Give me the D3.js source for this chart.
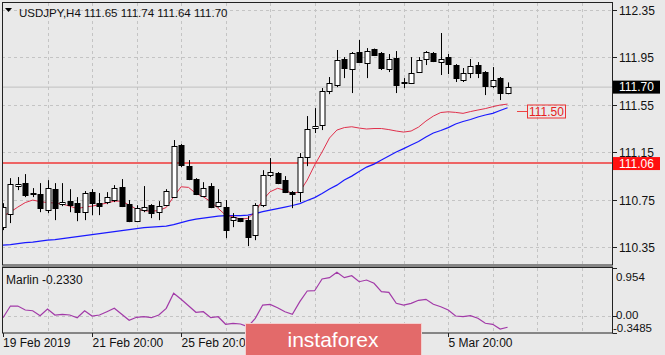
<!DOCTYPE html>
<html><head><meta charset="utf-8">
<script src="https://cdn.jsdelivr.net/npm/d3@7"></script>
<style>html,body{margin:0;padding:0;background:#e9e9e9;overflow:hidden}svg{display:block;font-family:"Liberation Sans",Arial,sans-serif}</style>
</head><body><svg id="c" width="665" height="355"></svg>
<script>
const symbolTitle = "USDJPY,H4";
const lastBar = ["111.65", "111.74", "111.64", "111.70"];
const opens = [110.520,110.630,110.866,110.891,110.811,110.798,110.663,110.840,110.714,110.739,
110.722,110.646,110.815,110.722,110.731,110.748,110.857,110.714,110.570,110.663,
110.705,110.646,110.705,110.773,111.211,111.034,110.925,110.781,110.866,110.697,
110.689,110.579,110.596,110.579,110.453,110.705,110.958,110.975,110.916,110.815,
110.815,111.110,111.355,111.380,111.667,111.717,111.937,111.852,111.996,111.903,
112.021,111.987,111.852,111.945,111.743,111.734,111.827,111.937,111.987,111.911,
111.953,111.886,111.759,111.819,111.886,111.827,111.709,111.776,111.65];
const highs = [110.722,110.933,110.942,110.967,110.849,110.891,110.916,110.891,110.891,110.840,
110.773,110.824,110.840,110.807,110.815,110.874,110.925,110.748,110.705,110.866,
110.714,110.739,110.840,111.254,111.220,111.085,110.933,110.899,110.891,110.840,
110.748,110.638,110.596,110.613,110.722,111.000,111.102,110.984,110.950,110.824,
111.144,111.456,111.523,111.692,111.785,112.013,111.953,111.996,112.097,112.029,
112.025,111.996,111.979,112.004,111.776,111.953,111.953,112.004,111.996,112.156,
111.979,111.894,111.861,111.937,111.911,111.835,111.869,111.785,111.74];
const lows = [110.495,110.554,110.832,110.773,110.773,110.646,110.638,110.579,110.697,110.646,
110.570,110.579,110.621,110.621,110.714,110.731,110.689,110.562,110.562,110.646,
110.596,110.579,110.697,110.765,111.026,110.916,110.790,110.773,110.680,110.685,
110.427,110.520,110.562,110.360,110.410,110.689,110.942,110.882,110.807,110.680,
110.731,111.034,111.313,111.338,111.641,111.700,111.776,111.650,111.907,111.776,
111.962,111.844,111.827,111.650,111.692,111.726,111.819,111.886,111.911,111.802,
111.810,111.743,111.743,111.776,111.776,111.633,111.692,111.591,111.64];
const closes = [110.689,110.883,110.883,110.790,110.802,110.680,110.849,110.680,110.731,110.705,
110.646,110.807,110.722,110.697,110.773,110.849,110.697,110.570,110.680,110.689,
110.638,110.697,110.824,111.203,111.043,110.925,110.798,110.849,110.689,110.731,
110.495,110.604,110.570,110.436,110.705,110.958,110.984,110.891,110.815,110.798,
111.110,111.346,111.372,111.667,111.734,111.928,111.861,111.987,111.911,112.004,
111.970,111.861,111.937,111.717,111.734,111.819,111.928,111.996,111.920,111.937,
111.894,111.776,111.819,111.878,111.819,111.709,111.759,111.650,111.70];
const maFast = [110.613,110.647,110.689,110.727,110.748,110.735,110.727,110.723,110.714,110.697,
110.676,110.689,110.697,110.710,110.723,110.739,110.739,110.706,110.672,110.658,
110.655,110.659,110.686,110.776,110.860,110.855,110.804,110.776,110.734,110.678,
110.621,110.607,110.588,110.594,110.649,110.748,110.818,110.847,110.832,110.804,
110.818,110.917,111.043,111.153,111.271,111.338,111.359,111.366,111.355,111.347,
111.351,111.351,111.342,111.330,111.321,111.330,111.363,111.414,111.456,111.486,
111.492,111.487,111.479,111.494,111.507,111.519,111.535,111.549,111.557];
const maSlow = [110.368,110.373,110.381,110.390,110.394,110.402,110.411,110.415,110.423,110.432,
110.440,110.449,110.457,110.465,110.474,110.482,110.491,110.499,110.508,110.516,
110.520,110.524,110.529,110.541,110.558,110.575,110.588,110.596,110.605,110.613,
110.617,110.617,110.617,110.621,110.634,110.651,110.664,110.676,110.689,110.702,
110.718,110.744,110.769,110.803,110.841,110.874,110.917,110.950,110.988,111.026,
111.051,111.085,111.119,111.153,111.182,111.212,111.241,111.279,111.313,111.334,
111.359,111.389,111.410,111.427,111.448,111.465,111.479,111.503,111.526];
const marlin = [-0.042,0.192,0.192,0.112,0.098,-0.002,0.132,0.012,0.026,0.012,
-0.042,0.098,-0.008,0.012,0.078,0.146,0.026,-0.094,-0.034,-0.022,
-0.042,0.012,0.146,0.447,0.327,0.198,0.066,0.078,-0.042,-0.022,
-0.174,-0.154,-0.168,-0.222,-0.054,0.212,0.226,0.158,0.078,0.026,
0.279,0.493,0.499,0.733,0.760,0.868,0.760,0.800,0.679,0.713,
0.647,0.479,0.467,0.246,0.212,0.246,0.307,0.327,0.226,0.178,
0.112,-0.008,-0.022,-0.002,-0.054,-0.154,-0.174,-0.269,-0.233];
const priceTicks = [110.35, 110.75, 111.15, 111.55, 111.95, 112.35];
const priceTickLabels = ["110.35","110.75","111.15","111.55","111.95","112.35"];
const timeTickIndex = [0, 12, 24, 60];
const timeTickLabels = ["19 Feb 2019","21 Feb 20:00","25 Feb 20:00","5 Mar 20:00"];
const gridStep = 6;
const levelLine = 111.06, levelLabel = "111.06";
const bidLine = 111.70, bidLabel = "111.70";
const targetLevel = 111.50, targetLabel = "111.50";
const marlinTicks = [0.954, 0.00, -0.3485];
const marlinTickLabels = ["0.954", "0.00", "-0.3485"];
const marlinTitle = "Marlin -0.2330";

const svg = d3.select("#c");
const L = 2, R = 612, T = 3, B = 265, IT = 268, IB = 333;
const bg = "#e9e9e9";
svg.append("rect").attr("width",665).attr("height",355).attr("fill",bg);

const x = d3.scaleLinear().domain([0, 68]).range([3, 3 + 7.42*68]);
const y = d3.scaleLinear().domain([110.35, 112.35]).range([247.3, 10]);
const yi = d3.scaleLinear().domain([-0.3485, 0.954]).range([333, 268]);

const defs = svg.append("defs");
defs.append("clipPath").attr("id","cm").append("rect").attr("x",L).attr("y",T).attr("width",R-L).attr("height",B-T);
defs.append("clipPath").attr("id","ci").append("rect").attr("x",L).attr("y",IT).attr("width",R-L).attr("height",IB-IT);

const gridCol = "#c4c4c4";
const gridIdx = d3.range(gridStep, 80, gridStep).filter(i => x(i) < R);
const gm = svg.append("g").attr("clip-path","url(#cm)");
gm.selectAll(".vg").data(gridIdx).enter().append("line")
  .attr("x1", d => Math.round(x(d))+0.5).attr("x2", d => Math.round(x(d))+0.5)
  .attr("y1", T).attr("y2", B).attr("stroke", gridCol).attr("stroke-dasharray","3,3");
gm.selectAll(".hg").data(priceTicks).enter().append("line")
  .attr("x1", L).attr("x2", R).attr("y1", d => Math.round(y(d))+0.5).attr("y2", d => Math.round(y(d))+0.5)
  .attr("stroke", gridCol).attr("stroke-dasharray","3,3");
const gi = svg.append("g").attr("clip-path","url(#ci)");
gi.selectAll(".vg").data(gridIdx).enter().append("line")
  .attr("x1", d => Math.round(x(d))+0.5).attr("x2", d => Math.round(x(d))+0.5)
  .attr("y1", IT).attr("y2", IB).attr("stroke", gridCol).attr("stroke-dasharray","3,3");
gi.append("line").attr("x1",L).attr("x2",R).attr("y1",Math.round(yi(0))+0.5).attr("y2",Math.round(yi(0))+0.5)
  .attr("stroke", gridCol).attr("stroke-dasharray","3,3");

gm.append("line").attr("x1",L).attr("x2",R).attr("y1",y(bidLine)).attr("y2",y(bidLine)).attr("stroke","#c0c0c0").attr("stroke-width",1);
gm.append("line").attr("x1",L).attr("x2",R).attr("y1",y(levelLine)).attr("y2",y(levelLine)).attr("stroke","#ee6464").attr("stroke-width",2);

const idx = d3.range(opens.length);
const lineGen = arr => d3.line().x(i => x(i)).y(i => y(arr[i]));
gm.append("path").datum(idx).attr("d", lineGen(maSlow)).attr("fill","none").attr("stroke","#1a1aff").attr("stroke-width",1.2);
gm.append("path").datum(idx).attr("d", lineGen(maFast)).attr("fill","none").attr("stroke","#e0304c").attr("stroke-width",1);

const cg = gm.append("g");
idx.forEach(i => {
  const cx = Math.round(x(i)) + 0.5;
  cg.append("line").attr("x1",cx).attr("x2",cx).attr("y1",y(highs[i])).attr("y2",y(lows[i])).attr("stroke","#000").attr("stroke-width",1);
  const top = y(Math.max(opens[i], closes[i])), bot = y(Math.min(opens[i], closes[i]));
  const bull = closes[i] >= opens[i];
  cg.append("rect").attr("x", cx-2.5).attr("y", Math.round(top)+0.5).attr("width",5)
    .attr("height", Math.max(1, Math.round(bot-top)))
    .attr("fill", bull ? "#fff" : "#000").attr("stroke","#000").attr("stroke-width",1);
});

const ty = Math.round(y(targetLevel)) + 0.5;
svg.append("line").attr("x1",517).attr("x2",527).attr("y1",ty).attr("y2",ty).attr("stroke","#ee4444").attr("stroke-width",1);
svg.append("rect").attr("x",527.5).attr("y",ty-6.5).attr("width",38).attr("height",13).attr("fill","none").attr("stroke","#ee3333");
svg.append("text").attr("x",546.5).attr("y",ty+4.3).attr("text-anchor","middle").attr("font-size",12).attr("fill","#e62020").text(targetLabel);

gi.append("path").datum(idx).attr("d", d3.line().x(i => x(i)).y(i => yi(marlin[i]))).attr("fill","none").attr("stroke","#a23aa8").attr("stroke-width",1.2);

svg.append("rect").attr("x",L+0.5).attr("y",T-0.5).attr("width",R-L).attr("height",B-T+0.5).attr("fill","none").attr("stroke","#222");
svg.append("rect").attr("x",L+0.5).attr("y",IT-0.5).attr("width",R-L).attr("height",IB-IT+0.5).attr("fill","none").attr("stroke","#222");
svg.append("line").attr("x1",L).attr("x2",R+1).attr("y1",B+1.5).attr("y2",B+1.5).attr("stroke","#888");

const ax = svg.append("g").attr("font-size",12).attr("fill","#111");
priceTicks.forEach((p,k) => {
  const yy = Math.round(y(p)) + 0.5;
  ax.append("line").attr("x1",R+0.5).attr("x2",R+5).attr("y1",yy).attr("y2",yy).attr("stroke","#222");
  ax.append("text").attr("x",619).attr("y",yy+4.3).text(priceTickLabels[k]);
});
const by = y(bidLine);
svg.append("rect").attr("x",613).attr("y",by-6.5).attr("width",47).attr("height",13).attr("fill","#000");
svg.append("text").attr("x",619).attr("y",by+4.3).attr("font-size",12).attr("fill","#fff").text(bidLabel);
const ly = y(levelLine);
svg.append("rect").attr("x",613).attr("y",ly-6).attr("width",47).attr("height",13).attr("fill","#ff1010");
svg.append("text").attr("x",619).attr("y",ly+4.8).attr("font-size",12).attr("fill","#fff").text(levelLabel);

const iyPos = [277, 314.8, 327.6];
marlinTicks.forEach((v,k) => {
  const yy = Math.round(yi(v)) + 0.5;
  ax.append("line").attr("x1",R+0.5).attr("x2",R+5).attr("y1",yy).attr("y2",yy).attr("stroke","#222");
  ax.append("text").attr("x", k===2 ? 613 : 616).attr("y", iyPos[k]+4).attr("font-size",11.5).text(marlinTickLabels[k]);
});
svg.append("text").attr("x",6).attr("y",284).attr("font-size",12).attr("fill","#111").text(marlinTitle);

timeTickIndex.forEach((i,k) => {
  const xx = Math.round(x(i)) + 0.5;
  ax.append("line").attr("x1",xx).attr("x2",xx).attr("y1",IB).attr("y2",IB+4).attr("stroke","#222");
  ax.append("text").attr("x", i===0 ? 3 : xx).attr("y",347).text(timeTickLabels[k]);
});

svg.append("path").attr("d","M5,8 L12,8 L8.5,12 Z").attr("fill","#000");
svg.append("text").attr("x",19).attr("y",16.5).attr("font-size",11.5).attr("fill","#111")
  .text(symbolTitle + "  " + lastBar.join(" "));

const wm = svg.append("g");
wm.append("rect").attr("x",245.5).attr("y",323.5).attr("width",176).attr("height",40).attr("fill","#e36a6a").attr("stroke","#f4d0d0");
wm.append("text").attr("x",333).attr("y",347).attr("text-anchor","middle").attr("font-size",21).attr("fill","#fff").text("instaforex");
</script></body></html>
